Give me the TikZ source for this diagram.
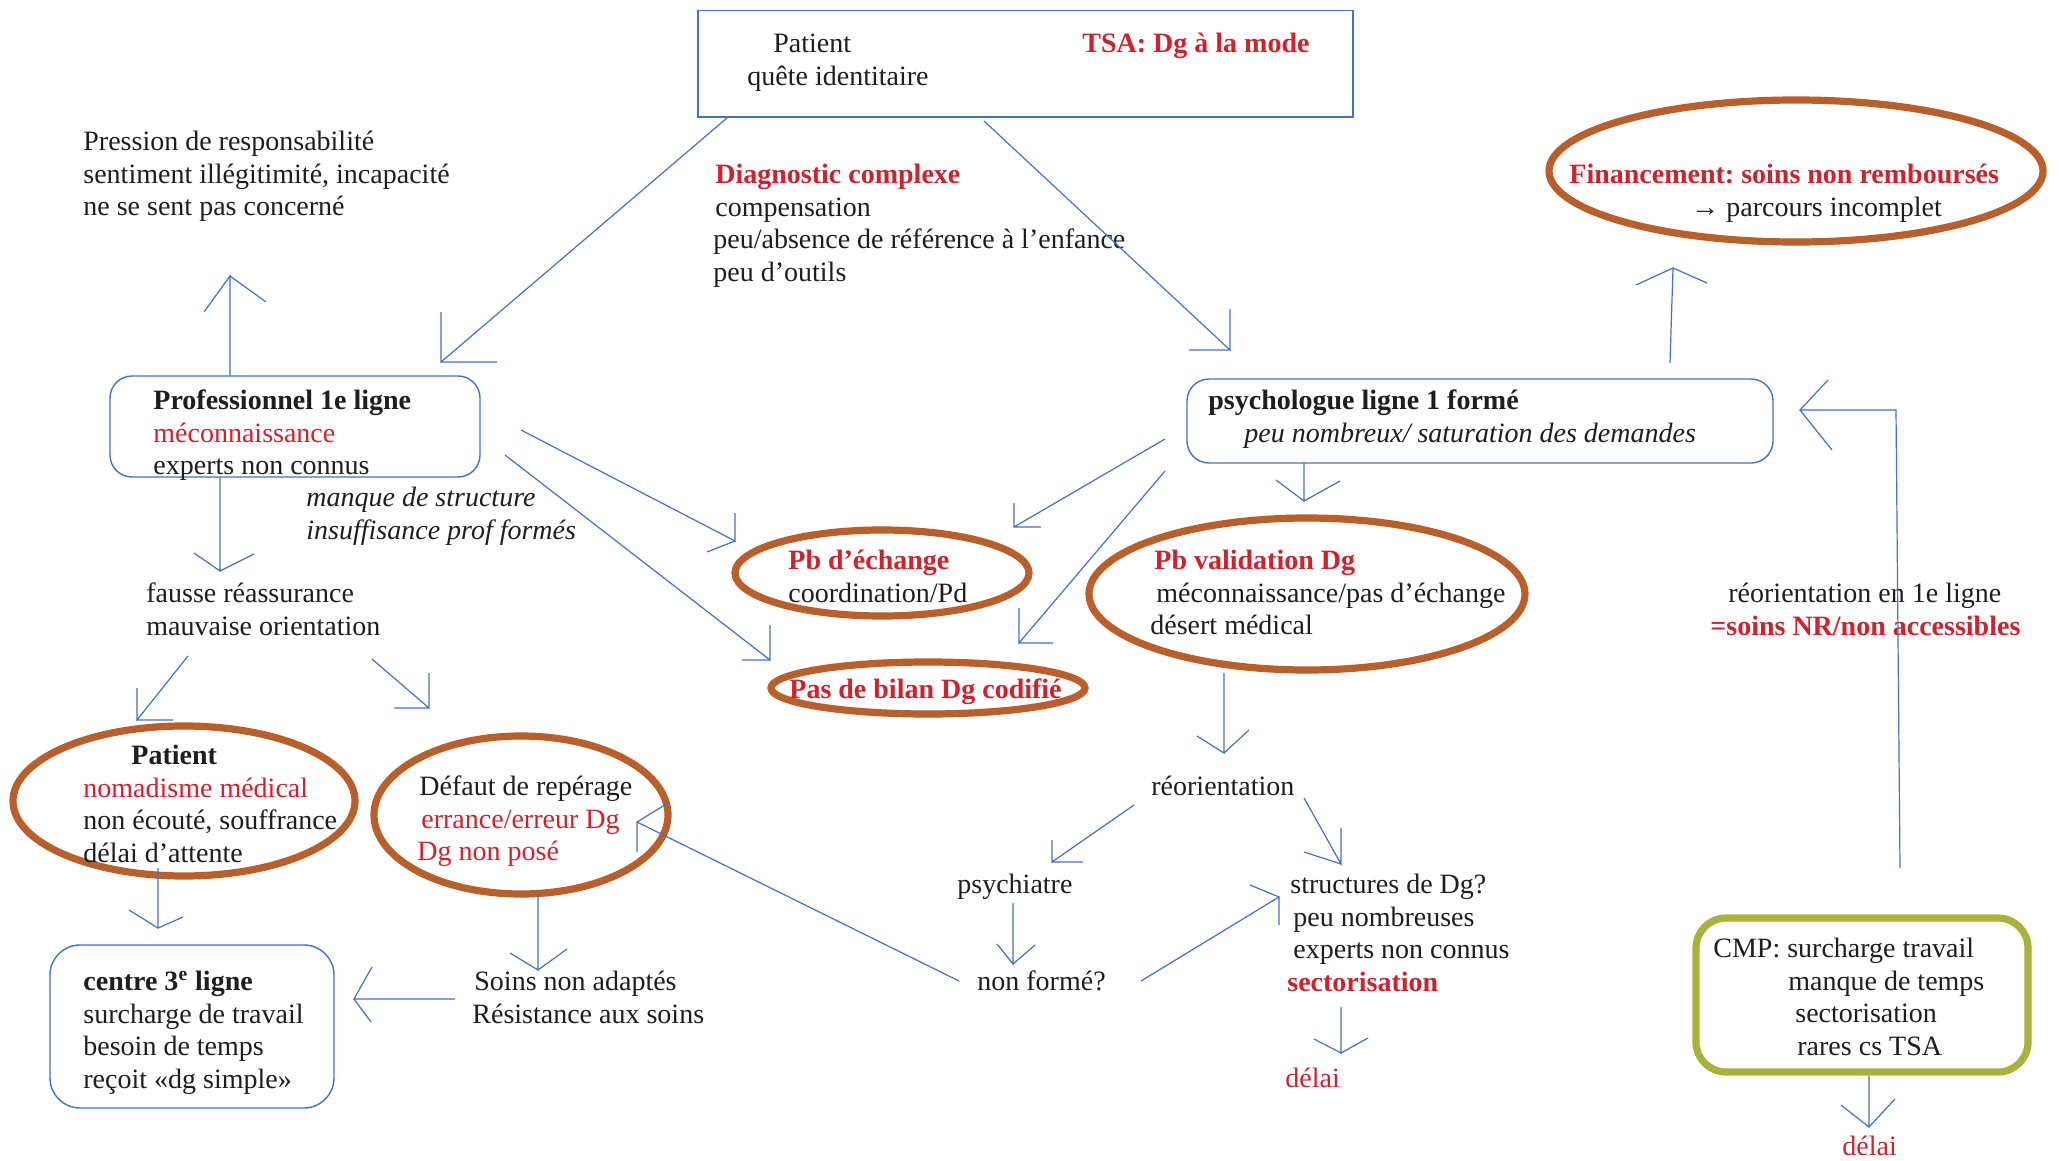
\documentclass[tikz,border=0pt]{standalone}
\usepackage{fontspec}
\setmainfont{Liberation Serif}
\usetikzlibrary{shapes.geometric}
\definecolor{lblue}{RGB}{68,114,196}
\definecolor{dred}{RGB}{208,33,45}
\definecolor{brn}{RGB}{186,94,42}
\definecolor{olv}{RGB}{170,178,58}
\definecolor{txt}{RGB}{30,30,30}
\begin{document}
\begin{tikzpicture}[x=0.5pt,y=-0.5pt,
  every node/.style={font=\fontsize{14}{16.3}\selectfont\frenchspacing, text=txt, inner sep=0pt, align=left},
  lbl/.style={anchor=base west},
  conn/.style={draw=lblue, line width=0.6pt},
  ell/.style={draw=brn, line width=3.6pt, ellipse, fill=none},
  sqbox/.style={draw=lblue, line width=0.7pt, rectangle},
  rbox/.style={draw=lblue, line width=0.7pt, rectangle, rounded corners=11pt},
  gbox/.style={draw=olv, line width=3.6pt, rectangle, rounded corners=15pt}]
\useasboundingbox[fill=white] (0,0) rectangle (2062,1161);

% shapes
\node[sqbox, minimum width=327.5pt, minimum height=53.25pt] (topbox) at (1025.5,63.75) {};
\node[rbox, minimum width=185pt, minimum height=50.5pt] (profbox) at (295,426.5) {};
\node[rbox, minimum width=293pt, minimum height=42pt] (psychbox) at (1480,421) {};
\node[rbox, minimum width=142pt, minimum height=81.5pt, rounded corners=15pt] (centrebox) at (192,1026.5) {};
\node[gbox, minimum width=166pt, minimum height=77pt] (cmpbox) at (1862,995) {};
\node[ell, minimum width=247pt, minimum height=71pt] (finE) at (1796,171) {};
\node[ell, minimum width=147pt, minimum height=43pt] (pbechE) at (882,573) {};
\node[ell, minimum width=218pt, minimum height=76pt] (pbvalE) at (1307,594) {};
\node[ell, minimum width=157pt, minimum height=26pt] (bilanE) at (928,688) {};
\node[ell, minimum width=171pt, minimum height=75pt] (patE) at (184,801) {};
\node[ell, minimum width=147pt, minimum height=79pt] (defE) at (521,815) {};

% texts (multi-line nodes: y is the baseline of the last line)
\begin{scope}[yshift=-1.75pt]
\node[lbl] (tpat) at (747,81.6) {\hspace*{13pt}Patient\\quête identitaire};
\node[lbl] (tsa) at (1082,49) {\textcolor{dred}{\bfseries TSA: Dg à la mode}};
\node[lbl] (press) at (83,212.2) {Pression de responsabilité\\sentiment illégitimité, incapacité\\ne se sent pas concerné};
\node[lbl] (diag) at (713,277.8) {\hspace*{1pt}\textcolor{dred}{\bfseries Diagnostic complexe}\\\hspace*{1pt}compensation\\peu/absence de référence à l’enfance\\peu d’outils};
\node[lbl] (fin) at (1569,212.6) {\textcolor{dred}{\bfseries Financement: soins non remboursés}\\\hspace*{61pt}→ parcours incomplet};
\node[lbl] (prof) at (153,471.2) {\textbf{Professionnel 1e ligne}\\\textcolor{dred}{méconnaissance}\\experts non connus};
\node[lbl] (psych) at (1208,438.6) {\textbf{psychologue ligne 1 formé}\\\hspace*{18pt}\textit{peu nombreux/ saturation des demandes}};
\node[lbl] (manque) at (306,535.6) {\textit{manque de structure}\\\textit{insuffisance prof formés}};
\node[lbl] (fausse) at (146,631.6) {fausse réassurance\\mauvaise orientation};
\node[lbl] (pbech) at (788,598.6) {\textcolor{dred}{\bfseries Pb d’échange}\\coordination/Pd};
\node[lbl] (pbval) at (1150,631.2) {\hspace*{2pt}\textcolor{dred}{\bfseries Pb validation Dg}\\\hspace*{3pt}méconnaissance/pas d’échange\\désert médical};
\node[lbl] (bilan) at (789,695) {\textcolor{dred}{\bfseries Pas de bilan Dg codifié}};
\node[lbl] (reor1) at (1710,631.6) {\hspace*{9pt}réorientation en 1e ligne\\\textcolor{dred}{\bfseries =soins NR/non accessibles}};
\node[lbl] (pat) at (83,858.8) {\hspace*{24pt}\textbf{Patient}\\\textcolor{dred}{nomadisme médical}\\non écouté, souffrance\\délai d’attente};
\node[lbl] (def) at (417,857.2) {\hspace*{1pt}Défaut de repérage\\\hspace*{2pt}\textcolor{dred}{errance/erreur Dg}\\\textcolor{dred}{Dg non posé}};
\node[lbl] (reor) at (1151,792) {réorientation};
\node[lbl] (psychiatre) at (957,890) {psychiatre};
\node[lbl] (struct) at (1287,987.8) {\hspace*{1.5pt}structures de Dg?\\\hspace*{3pt}peu nombreuses\\\hspace*{3pt}experts non connus\\\textcolor{dred}{\bfseries sectorisation}};
\node[lbl] (nonf) at (977,987) {non formé?};
\node[lbl] (delai1) at (1285,1084) {\textcolor{dred}{délai}};
\node[lbl] (centre) at (83,1084.8) {\textbf{centre 3\textsuperscript{e} ligne}\\surcharge de travail\\besoin de temps\\reçoit «dg simple»};
\node[lbl] (soins) at (472,1019.6) {\hspace*{1pt}Soins non adaptés\\Résistance aux soins};
\node[lbl] (cmp) at (1713,1051.8) {CMP: surcharge travail\\\hspace*{37.5pt}manque de temps\\\hspace*{41pt}sectorisation\\\hspace*{42pt}rares cs TSA};
\end{scope}
\node[lbl] (delai2) at (1842,1155) {\textcolor{dred}{délai}};

% connector end points
\coordinate (a1s) at (727,118);   \coordinate (a1e) at (441,362);
\coordinate (a2s) at (984,121);   \coordinate (a2e) at (1230,350);
\coordinate (a3s) at (230,376);   \coordinate (a3e) at (230,276);
\coordinate (a4s) at (220,477);   \coordinate (a4e) at (220,571);
\coordinate (a5s) at (521,430);   \coordinate (a5e) at (735,541);
\coordinate (a6s) at (505,455);   \coordinate (a6e) at (770,660);
\coordinate (a7s) at (1165,439);  \coordinate (a7e) at (1014,527);
\coordinate (a8s) at (1165,471);  \coordinate (a8e) at (1019,643);
\coordinate (a9s) at (1304,463);  \coordinate (a9e) at (1304,501);
\coordinate (a10s) at (1670,363); \coordinate (a10e) at (1673,268);
\coordinate (a11s) at (1900,868); \coordinate (a11m) at (1896,410); \coordinate (a11e) at (1800,410);
\coordinate (a12s) at (188,656);  \coordinate (a12e) at (137,720);
\coordinate (a13s) at (372,659);  \coordinate (a13e) at (429,708);
\coordinate (a14s) at (158,868);  \coordinate (a14e) at (158,928);
\coordinate (a15s) at (538,894);  \coordinate (a15e) at (538,970);
\coordinate (a16s) at (455,999);  \coordinate (a16e) at (354,999);
\coordinate (a17s) at (1224,673); \coordinate (a17e) at (1224,753);
\coordinate (a18s) at (1134,805); \coordinate (a18e) at (1052,862);
\coordinate (a19s) at (1304,798); \coordinate (a19e) at (1341,864);
\coordinate (a20s) at (1013,903); \coordinate (a20e) at (1013,964);
\coordinate (a21s) at (1141,981); \coordinate (a21e) at (1279,897);
\coordinate (a22s) at (959,981);  \coordinate (a22e) at (637,822);
\coordinate (a23s) at (1341,1007);\coordinate (a23e) at (1341,1053);
\coordinate (a24s) at (1869,1076);\coordinate (a24e) at (1869,1127);

% connectors with their open barbs
\draw[conn] (a1s) -- (a1e) -- +(0,-50) (a1e) -- +(56,0);
\draw[conn] (a2s) -- (a2e) -- +(0,-41) (a2e) -- +(-41,0);
\draw[conn] (a3s) -- (a3e) -- +(-26,36) (a3e) -- +(36,26);
\draw[conn] (a4s) -- (a4e) -- +(-26,-18) (a4e) -- +(34,-17);
\draw[conn] (a5s) -- (a5e) -- +(0,-28) (a5e) -- +(-28,11);
\draw[conn] (a6s) -- (a6e) -- +(0,-35) (a6e) -- +(-28,0);
\draw[conn] (a7s) -- (a7e) -- +(0,-24) (a7e) -- +(27,0);
\draw[conn] (a8s) -- (a8e) -- +(0,-35) (a8e) -- +(34,0);
\draw[conn] (a9s) -- (a9e) -- +(-28,-21) (a9e) -- +(36,-20);
\draw[conn] (a10s) -- (a10e) -- +(-37,17) (a10e) -- +(34,15);
\draw[conn] (a11s) -- (a11m) -- (a11e) -- +(28,-30) (a11e) -- +(32,40);
\draw[conn] (a12s) -- (a12e) -- +(0,-32) (a12e) -- +(36,0);
\draw[conn] (a13s) -- (a13e) -- +(0,-35) (a13e) -- +(-35,0);
\draw[conn] (a14s) -- (a14e) -- +(-29,-18) (a14e) -- +(25,-11);
\draw[conn] (a15s) -- (a15e) -- +(-28,-17) (a15e) -- +(29,-21);
\draw[conn] (a16s) -- (a16e) -- +(18,-32) (a16e) -- +(17,23);
\draw[conn] (a17s) -- (a17e) -- +(-27,-17) (a17e) -- +(25,-23);
\draw[conn] (a18s) -- (a18e) -- +(0,-22) (a18e) -- +(31,0);
\draw[conn] (a19s) -- (a19e) -- +(0,-36) (a19e) -- +(-37,-12);
\draw[conn] (a20s) -- (a20e) -- +(-16,-20) (a20e) -- +(22,-19);
\draw[conn] (a21s) -- (a21e) -- +(-29,-12) (a21e) -- +(0,28);
\draw[conn] (a22s) -- (a22e) -- +(31,-19) (a22e) -- +(0,30);
\draw[conn] (a23s) -- (a23e) -- +(-27,-14) (a23e) -- +(27,-15);
\draw[conn] (a24s) -- (a24e) -- +(-28,-22) (a24e) -- +(26,-28);
\end{tikzpicture}
\end{document}
